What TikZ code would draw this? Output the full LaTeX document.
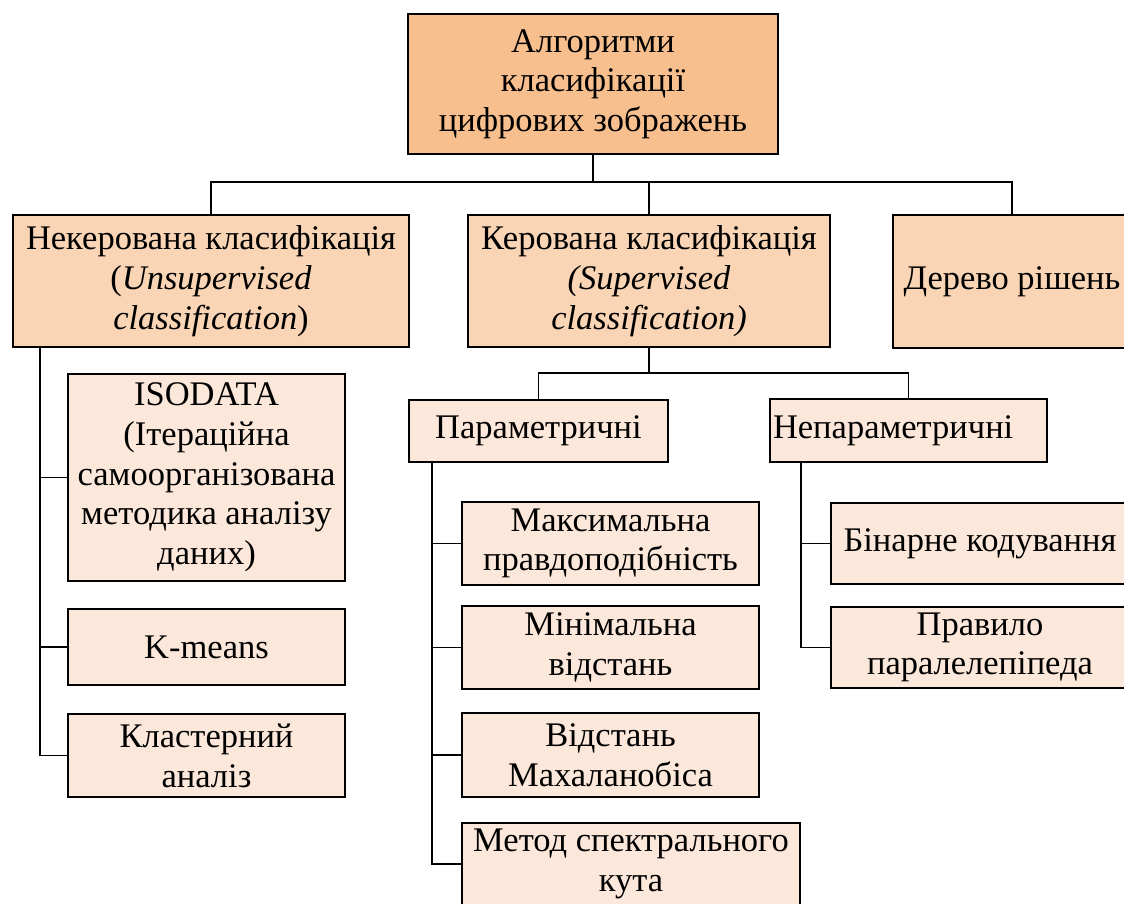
\documentclass[tikz,border=0pt]{standalone}
\usepackage{fontspec}
\setmainfont{Liberation Serif}
\definecolor{rootfill}{HTML}{F8BF8E}
\definecolor{groupfill}{HTML}{F9D4B5}
\definecolor{leaffill}{HTML}{FCE8DA}
\begin{document}
\begin{tikzpicture}[x=1pt,y=-1pt,
  box/.style={draw=black, line width=1.8pt, inner sep=0pt, align=center,
    font=\fontsize{34.5}{39.7}\selectfont},
  rootbox/.style={box, fill=rootfill},
  groupbox/.style={box, fill=groupfill},
  leafbox/.style={box, fill=leaffill},
  link/.style={draw=black, line width=1.8pt}]
\fill[white] (0,0) rectangle (1124,903);
\useasboundingbox (0,0) rectangle (1124,903);

% root
\node[rootbox, minimum width=370pt, minimum height=140pt] (root) at (593,84)
  {Алгоритми\\класифікації\\цифрових зображень};

% second level
\node[groupbox, minimum width=396pt, minimum height=132pt] (unsup) at (211,281)
  {Некерована класифікація\\(\textit{Unsupervised}\\\textit{classification})};
\node[groupbox, minimum width=362pt, minimum height=132pt] (sup) at (649,281)
  {Керована класифікація\\\textit{(Supervised}\\\textit{classification)}};
\node[groupbox, minimum width=238pt, minimum height=133pt] (tree) at (1012,281.5)
  {Дерево рішень};

% unsupervised methods
\node[leafbox, minimum width=277pt, minimum height=207pt] (iso) at (206.5,477.5)
  {ISODATA\\(Ітераційна\\самоорганізована\\методика аналізу\\даних)};
\node[leafbox, minimum width=277pt, minimum height=76pt] (kmeans) at (206.5,647)
  {K-means};
\node[leafbox, minimum width=277pt, minimum height=83pt] (clus) at (206.5,755.5)
  {Кластерний\\аналіз};

% supervised subgroups
\node[leafbox, minimum width=259pt, minimum height=62pt] (param) at (538.5,431)
  {Параметричні};
\node[leafbox, minimum width=277pt, minimum height=63pt, text width=271pt,
  inner xsep=3pt, align=left] (nonparam) at (908.5,430.5)
  {Непараметричні};

% parametric methods
\node[leafbox, minimum width=297pt, minimum height=83pt] (maxl) at (610.5,543.5)
  {Максимальна\\правдоподібність};
\node[leafbox, minimum width=297pt, minimum height=83pt] (mind) at (610.5,647.5)
  {Мінімальна\\відстань};
\node[leafbox, minimum width=297pt, minimum height=84pt] (maha) at (610.5,755)
  {Відстань\\Махаланобіса};
\node[leafbox, minimum width=338pt, minimum height=82pt] (sam) at (631,864)
  {Метод спектрального\\кута};

% non-parametric methods
\node[leafbox, minimum width=298pt, minimum height=81pt] (bin) at (980,543.5)
  {Бінарне кодування};
\node[leafbox, minimum width=298pt, minimum height=81pt] (pipe) at (980,647.5)
  {Правило\\паралелепіпеда};

% top level connectors
\coordinate (h1) at (0,182);
\draw[link] (root.south) -- (root.south |- h1);
\draw[link] (unsup.north) |- (h1 -| tree.north) -- (tree.north);
\draw[link] (sup.north) -- (sup.north |- h1);

% supervised split
\coordinate (h2) at (0,373);
\draw[link] (sup.south) -- (sup.south |- h2);
\draw[link] (param.north) |- (h2 -| nonparam.north) -- (nonparam.north);

% unsupervised trunk
\coordinate (t1) at ([xshift=28pt]unsup.south west);
\draw[link] (t1) |- (clus.west);
\draw[link] (iso.west) -- (iso.west -| t1);
\draw[link] (kmeans.west) -- (kmeans.west -| t1);

% parametric trunk
\coordinate (t2) at ([xshift=24pt]param.south west);
\draw[link] (t2) |- (sam.west);
\draw[link] (maxl.west) -- (maxl.west -| t2);
\draw[link] (mind.west) -- (mind.west -| t2);
\draw[link] (maha.west) -- (maha.west -| t2);

% non-parametric trunk
\coordinate (t3) at ([xshift=32pt]nonparam.south west);
\draw[link] (t3) |- (pipe.west);
\draw[link] (bin.west) -- (bin.west -| t3);
\end{tikzpicture}
\end{document}
